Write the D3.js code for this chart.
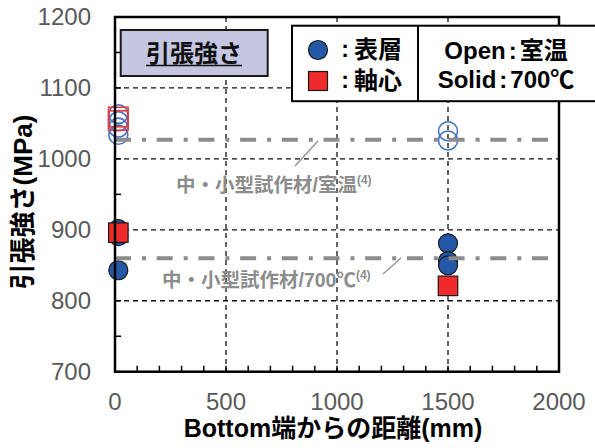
<!DOCTYPE html>
<html>
<head>
<meta charset="utf-8">
<script src="https://cdn.jsdelivr.net/npm/d3@7"></script>
<style>
  html, body { margin: 0; padding: 0; background: #fff; }
  svg { display: block; }
  text { font-family: "Liberation Sans", Arial, "Noto Sans CJK JP", sans-serif; }
</style>
</head>
<body>
<svg id="chart" width="595" height="448"></svg>
<script>
// Tensile strength vs. distance from bottom end
const xTicks = [0, 500, 1000, 1500, 2000];
const yTicks = [700, 800, 900, 1000, 1100, 1200];
const xGrid = [500, 1000, 1500];
const yGrid = [800, 900, 1000, 1100];

// Open markers: room temperature; solid markers: 700°C
const surfaceRT = [
  { x: 15, y: 1063 }, { x: 15, y: 1053 }, { x: 15, y: 1044 }, { x: 15, y: 1034 },
  { x: 1500, y: 1039 }, { x: 1500, y: 1026 }
];
const coreRT = [{ x: 15, y: 1059 }, { x: 15, y: 1054 }];
const surface700 = [
  { x: 15, y: 901 }, { x: 15, y: 891 }, { x: 15, y: 843 },
  { x: 1500, y: 881 }, { x: 1500, y: 856 }, { x: 1500, y: 850 }
];
const core700 = [{ x: 15, y: 896 }, { x: 1500, y: 821 }];

// Reference levels of the small/medium trial material
const refLevels = [
  { value: 1027, label: "中・小型試作材/室温" },
  { value: 860, label: "中・小型試作材/700℃" }
];
const refSpan = [0, 1950];

const svg = d3.select("#chart");
const plot = { left: 115, right: 559, top: 17, bottom: 371.7 };

const x = d3.scaleLinear().domain([0, 2000]).range([plot.left, plot.right]);
const y = d3.scaleLinear().domain([700, 1200]).range([plot.bottom, plot.top]);

const BLUE = "#2458a6", RED = "#ee2a2a", OPEN_BLUE = "#4472c4", OPEN_RED = "#e53a3a";
const GRAY = "#8c8c8c";

// Dashed grid
svg.append("g").selectAll("line").data(yGrid).join("line")
  .attr("x1", plot.left).attr("x2", plot.right)
  .attr("y1", d => y(d)).attr("y2", d => y(d))
  .attr("stroke", "#111").attr("stroke-width", 1.3).attr("stroke-dasharray", "5,4");
svg.append("g").selectAll("line").data(xGrid).join("line")
  .attr("x1", d => x(d)).attr("x2", d => x(d))
  .attr("y1", plot.top).attr("y2", plot.bottom)
  .attr("stroke", "#111").attr("stroke-width", 1.3).attr("stroke-dasharray", "5,4");

// Inward minor ticks
const xMinor = d3.range(100, 2000, 100);
const yMinor = d3.range(750, 1200, 50);
svg.append("g").selectAll("line").data(xMinor).join("line")
  .attr("x1", d => x(d)).attr("x2", d => x(d))
  .attr("y1", plot.bottom).attr("y2", plot.bottom - 6)
  .attr("stroke", "#000").attr("stroke-width", 1.5);
svg.append("g").selectAll("line").data(yMinor).join("line")
  .attr("x1", plot.left).attr("x2", plot.left + 6)
  .attr("y1", d => y(d)).attr("y2", d => y(d))
  .attr("stroke", "#000").attr("stroke-width", 1.5);

// Markers
const R = 9.5, S = 19.5;
const mk = svg.append("g");
mk.selectAll("circle.open").data(surfaceRT).join("circle")
  .attr("cx", d => x(d.x)).attr("cy", d => y(d.y)).attr("r", R)
  .attr("fill", "none").attr("stroke", OPEN_BLUE).attr("stroke-width", 1.6);
mk.selectAll("rect.open").data(coreRT).join("rect")
  .attr("x", d => x(d.x) - S / 2).attr("y", d => y(d.y) - S / 2)
  .attr("width", S).attr("height", S)
  .attr("fill", "none").attr("stroke", OPEN_RED).attr("stroke-width", 1.6);
mk.selectAll("circle.solid").data(surface700).join("circle")
  .attr("cx", d => x(d.x)).attr("cy", d => y(d.y)).attr("r", R)
  .attr("fill", BLUE).attr("stroke", "#1a1a1a").attr("stroke-width", 1.2);
mk.selectAll("rect.solid").data(core700).join("rect")
  .attr("x", d => x(d.x) - S / 2).attr("y", d => y(d.y) - S / 2)
  .attr("width", S).attr("height", S)
  .attr("fill", RED).attr("stroke", "#1a1a1a").attr("stroke-width", 1.2);

// Reference dash-dot lines
svg.append("g").selectAll("line").data(refLevels).join("line")
  .attr("x1", x(refSpan[0])).attr("x2", x(refSpan[1]))
  .attr("y1", d => y(d.value)).attr("y2", d => y(d.value))
  .attr("stroke", GRAY).attr("stroke-width", 4)
  .attr("stroke-dasharray", "16,11,4,10.7");

// Frame
svg.append("rect")
  .attr("x", plot.left).attr("y", plot.top)
  .attr("width", plot.right - plot.left).attr("height", plot.bottom - plot.top)
  .attr("fill", "none").attr("stroke", "#000").attr("stroke-width", 2.5);

// Tick labels
svg.append("g").selectAll("text").data(yTicks).join("text")
  .attr("x", 91).attr("y", d => y(d)).attr("dy", "0.35em")
  .attr("text-anchor", "end").attr("font-size", 24).attr("fill", "#595959")
  .text(d => d);
svg.append("g").selectAll("text").data(xTicks).join("text")
  .attr("x", d => x(d)).attr("y", 410)
  .attr("text-anchor", "middle").attr("font-size", 24).attr("fill", "#595959")
  .text(d => d);

// Axis titles
svg.append("text")
  .attr("x", 333).attr("y", 437).attr("text-anchor", "middle")
  .attr("font-size", 25).attr("font-weight", "bold").attr("fill", "#000")
  .text("Bottom端からの距離(mm)");
svg.append("text")
  .attr("transform", "translate(32,202) rotate(-90)")
  .attr("text-anchor", "middle")
  .attr("font-size", 26).attr("font-weight", "bold").attr("fill", "#000")
  .text("引張強さ(MPa)");

// Reference labels with leader lines
const labelPos = [
  { x: 176, y: 192, lx1: 295, ly1: 166, lx2: 318, ly2: 141 },
  { x: 162, y: 287, lx1: 383, ly1: 274, lx2: 401, ly2: 258 }
];
refLevels.forEach((r, i) => {
  const p = labelPos[i];
  const t = svg.append("text").attr("x", p.x).attr("y", p.y)
    .attr("font-size", 19.5).attr("font-weight", "bold").attr("fill", GRAY);
  t.append("tspan").text(r.label);
  t.append("tspan").attr("dy", -8).attr("font-size", 12).text("(4)");
  svg.append("line")
    .attr("x1", p.lx1).attr("y1", p.ly1).attr("x2", p.lx2).attr("y2", p.ly2)
    .attr("stroke", GRAY).attr("stroke-width", 1.2);
});

// Title box
svg.append("rect")
  .attr("x", 120.7).attr("y", 30).attr("width", 147).attr("height", 46)
  .attr("fill", "#c5c6e2").attr("stroke", "#1a1a1a").attr("stroke-width", 2);
svg.append("text")
  .attr("x", 194).attr("y", 62).attr("text-anchor", "middle")
  .attr("font-size", 24).attr("font-weight", "bold").attr("fill", "#111")
  .text("引張強さ");
svg.append("line")
  .attr("x1", 146).attr("x2", 242).attr("y1", 65.5).attr("y2", 65.5)
  .attr("stroke", "#111").attr("stroke-width", 1.5);

// Legend
const lg = svg.append("g");
lg.append("rect")
  .attr("x", 292).attr("y", 25.7).attr("width", 320).attr("height", 75.5)
  .attr("fill", "#fff").attr("stroke", "#000").attr("stroke-width", 2);
lg.append("line").attr("x1", 418).attr("x2", 418).attr("y1", 25.7).attr("y2", 101.2)
  .attr("stroke", "#000").attr("stroke-width", 2);
lg.append("circle").attr("cx", 318).attr("cy", 50).attr("r", 9.5)
  .attr("fill", BLUE).attr("stroke", "#1a1a1a").attr("stroke-width", 1.2);
lg.append("rect").attr("x", 318 - 9.5).attr("y", 81 - 9.5).attr("width", 19).attr("height", 19)
  .attr("fill", RED).attr("stroke", "#1a1a1a").attr("stroke-width", 1.2);
const legendRows = [
  { y: 58, label: "表層" },
  { y: 88.5, label: "軸心" }
];
legendRows.forEach(r => {
  lg.append("text").attr("x", 345).attr("y", r.y - 1).attr("text-anchor", "middle")
    .attr("font-size", 23).attr("font-weight", "bold").text(":");
  lg.append("text").attr("x", 354).attr("y", r.y)
    .attr("font-size", 24).attr("font-weight", "bold").text(r.label);
});
const condRows = [
  { y: 59, a: "Open", b: "室温" },
  { y: 88, a: "Solid", b: "700℃" }
];
condRows.forEach(r => {
  const t = lg.append("text").attr("x", 506).attr("y", r.y).attr("text-anchor", "middle")
    .attr("font-size", 24).attr("font-weight", "bold");
  t.append("tspan").text(r.a);
  t.append("tspan").attr("dx", 3).text(":");
  t.append("tspan").attr("dx", 3).text(r.b);
});
</script>
</body>
</html>
